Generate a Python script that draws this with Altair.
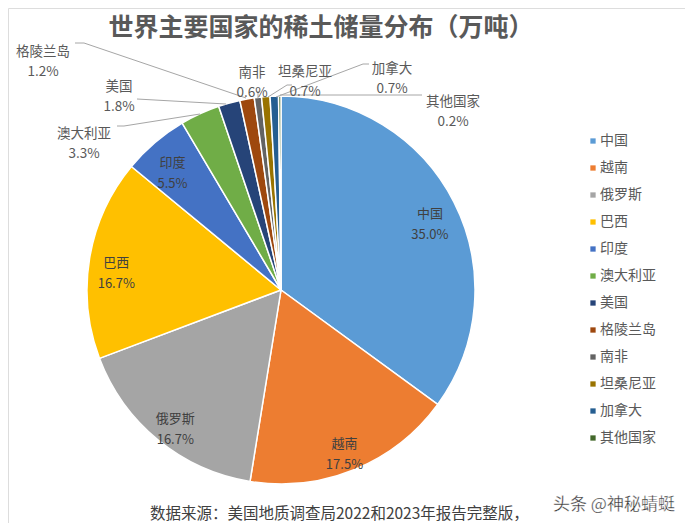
import altair as alt
import pandas as pd

# ---------------- data ----------------
countries = ["中国", "越南", "俄罗斯", "巴西", "印度", "澳大利亚", "美国",
             "格陵兰岛", "南非", "坦桑尼亚", "加拿大", "其他国家"]
shares = [35.0, 17.5, 16.7, 16.7, 5.5, 3.3, 1.8, 1.2, 0.6, 0.7, 0.7, 0.2]
colors = ["#5B9BD5", "#ED7D31", "#A5A5A5", "#FFC000", "#4472C4", "#70AD47",
          "#264478", "#9E480E", "#636363", "#997300", "#255E91", "#43682B"]
inside = ["中国", "越南", "俄罗斯", "巴西", "印度"]

title_text = "世界主要国家的稀土储量分布（万吨）"
source_text = "数据来源：美国地质调查局2022和2023年报告完整版，"
watermark_text = "头条 @神秘蜻蜓"

# ---------------- layout (page pixels) ----------------
OFF = 8
W, H = 693 - 2 * OFF, 531 - 2 * OFF
CX, CY, R = 281 - OFF, 290 - OFF, 194
LABEL_R = 167
FONT = "Noto Sans CJK SC"

# outside label block centres
outer_pos = {
    "格陵兰岛": (43, 52),
    "美国": (119, 87),
    "澳大利亚": (84, 134),
    "南非": (252, 73),
    "坦桑尼亚": (305, 72),
    "加拿大": (392, 69),
    "其他国家": (453, 102),
}
# leader line polylines
leaders = {
    "格陵兰岛": [(75, 43), (84, 43), (246, 98)],
    "美国": [(137, 99), (226, 104)],
    "澳大利亚": [(117, 126), (124, 126), (200, 114)],
    "南非": [(258, 91), (258, 98)],
    "坦桑尼亚": [(268, 97), (287, 85), (292, 85)],
    "加拿大": [(276, 97), (363, 64), (369, 64)],
    "其他国家": [(280, 95), (422, 95)],
}

# ---------------- tables ----------------
df = pd.DataFrame({
    "country": countries,
    "share": shares,
    "idx": list(range(len(countries))),
})
df["inner_label"] = [f"{c}\n{v:.1f}%" if c in inside else "" for c, v in zip(countries, shares)]

outer_rows = []
for c, v in zip(countries, shares):
    if c in outer_pos:
        x, y = outer_pos[c]
        outer_rows.append({"country": c, "px": x - OFF, "py": y - OFF, "label": f"{c}\n{v:.1f}%"})
outer_df = pd.DataFrame(outer_rows)

line_rows = []
for c, pts in leaders.items():
    for i, (x, y) in enumerate(pts):
        line_rows.append({"country": c, "seq": i, "px": x - OFF, "py": y - OFF})
line_df = pd.DataFrame(line_rows)

xs = alt.Scale(domain=[0, W], range=[0, W], zero=False, nice=False)
ys = alt.Scale(domain=[0, H], range=[0, H], zero=False, nice=False)

color_scale = alt.Scale(domain=countries, range=colors)

base = alt.Chart(df)

arcs = base.mark_arc(radius=R, stroke="white", strokeWidth=1.5).encode(
    theta=alt.Theta("share:Q", stack=True),
    order=alt.Order("idx:Q"),
    color=alt.Color(
        "country:N", scale=color_scale, sort=countries,
        legend=alt.Legend(
            title=None, orient="none", legendX=578, legendY=126,
            symbolType="square", symbolSize=28, symbolStrokeWidth=0,
            labelFont=FONT, labelFontSize=14, labelColor="#595959",
            rowPadding=13, labelOffset=0,
        ),
    ),
    x=alt.value(CX), y=alt.value(CY),
)

inner = base.mark_text(
    radius=LABEL_R, font=FONT, fontSize=13, color="#404040",
    lineBreak="\n", lineHeight=21, align="center", baseline="middle",
).encode(
    theta=alt.Theta("share:Q", stack=True),
    order=alt.Order("idx:Q"),
    text="inner_label:N",
    x=alt.value(CX), y=alt.value(CY),
)

lines = alt.Chart(line_df).mark_line(color="#A6A6A6", strokeWidth=1).encode(
    x=alt.X("px:Q", scale=xs, axis=None),
    y=alt.Y("py:Q", scale=ys, axis=None),
    detail="country:N",
    order="seq:Q",
)

outer = alt.Chart(outer_df).mark_text(
    font=FONT, fontSize=13.5, color="#595959", lineBreak="\n", lineHeight=20,
    align="center", baseline="middle",
).encode(
    x=alt.X("px:Q", scale=xs, axis=None),
    y=alt.Y("py:Q", scale=ys, axis=None),
    text="label:N",
)

title = alt.Chart(pd.DataFrame({"t": [title_text]})).mark_text(
    font=FONT, fontSize=25, fontWeight="bold", color="#595959",
    align="center", baseline="middle",
).encode(text="t:N", x=alt.value(321 - OFF), y=alt.value(28 - OFF))

source = alt.Chart(pd.DataFrame({"t": [source_text]})).mark_text(
    font=FONT, fontSize=15.5, color="#404040", align="left", baseline="middle",
).encode(text="t:N", x=alt.value(150 - OFF), y=alt.value(514 - OFF))

wm = alt.Chart(pd.DataFrame({"t": [watermark_text]})).mark_text(
    font=FONT, fontSize=17, color="#333333", align="left", baseline="middle",
    stroke="white", strokeWidth=0.3,
).encode(text="t:N", x=alt.value(553 - OFF), y=alt.value(505 - OFF))

chart = alt.layer(arcs, inner, lines, outer, title, source, wm).resolve_scale(
    x="shared", y="shared"
).properties(
    width=W, height=H, padding=0,
    autosize=alt.AutoSizeParams(type="none"),
).configure_view(stroke=None).configure(background="white")

chart.save("out.html", embed_options={"renderer": "svg", "actions": False})
